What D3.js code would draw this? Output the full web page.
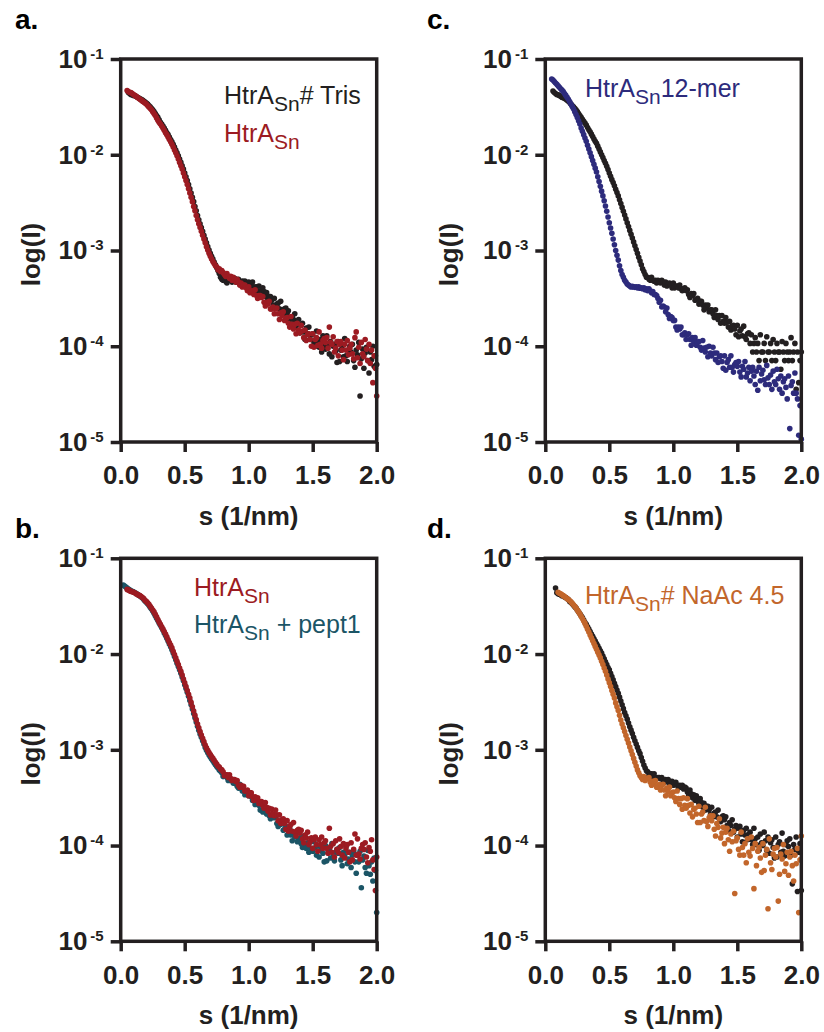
<!DOCTYPE html>
<html lang="en">
<head>
<meta charset="UTF-8">
<title>SAXS curves HtrA</title>
<script src="https://d3js.org/d3.v7.min.js"></script>
<style>
    body { margin: 0; background: #fff; }
    svg { display: block; font-family: "Liberation Sans", Arial, sans-serif; }
    .tick line { stroke: #231f20; stroke-width: 3.5; }
    .tick text { fill: #231f20; font-weight: bold; }
</style>
</head>
<body>
<svg id="fig" width="824" height="1032"></svg>
<script>
// s values (1/nm), shared grid for every curve
const S_GRID = [
  0.02,0.03,0.04,0.05,0.06,0.07,0.08,0.09,
  0.10,0.11,0.12,0.13,0.14,0.15,0.16,0.17,0.18,0.19,
  0.20,0.21,0.22,0.23,0.24,0.25,0.26,0.27,0.28,0.29,
  0.30,0.31,0.32,0.33,0.34,0.35,0.36,0.37,0.38,0.39,
  0.40,0.41,0.42,0.43,0.44,0.45,0.46,0.47,0.48,0.49,
  0.50,0.51,0.52,0.53,0.54,0.55,0.56,0.57,0.58,0.59,
  0.60,0.61,0.62,0.63,0.64,0.65,0.66,0.67,0.68,0.69,
  0.70,0.71,0.72,0.73,0.74,0.75,0.76,0.77,0.78,0.79,
  0.80,0.81,0.82,0.83,0.84,0.85,0.86,0.87,0.88,0.89,
  0.90,0.91,0.92,0.93,0.94,0.95,0.96,0.97,0.98,0.99,
  1.00,1.01,1.02,1.03,1.04,1.05,1.06,1.07,1.08,1.09,
  1.10,1.11,1.12,1.13,1.14,1.15,1.16,1.17,1.18,1.19,
  1.20,1.21,1.22,1.23,1.24,1.25,1.26,1.27,1.28,1.29,
  1.30,1.31,1.32,1.33,1.34,1.35,1.36,1.37,1.38,1.39,
  1.40,1.41,1.42,1.43,1.44,1.45,1.46,1.47,1.48,1.49,
  1.50,1.51,1.52,1.53,1.54,1.55,1.56,1.57,1.58,1.59,
  1.60,1.61,1.62,1.63,1.64,1.65,1.66,1.67,1.68,1.69,
  1.70,1.71,1.72,1.73,1.74,1.75,1.76,1.77,1.78,1.79,
  1.80,1.81,1.82,1.83,1.84,1.85,1.86,1.87,1.88,1.89,
  1.90,1.91,1.92,1.93,1.94,1.95,1.96,1.97,1.98,1.99,2.00
];

// log10(I) read off the figure, one value per S_GRID entry (null = not measured)
// panel a: HtrA_Sn# Tris (black)
const A_TRIS = [
  null,null,null,null,-1.35,-1.36,-1.37,-1.375,
  -1.38,-1.385,-1.39,-1.40,-1.405,-1.415,-1.42,-1.43,-1.44,-1.45,
  -1.46,-1.47,-1.485,-1.50,-1.515,-1.53,-1.55,-1.57,-1.59,-1.61,
  -1.635,-1.66,-1.68,-1.70,-1.72,-1.745,-1.77,-1.79,-1.815,-1.84,
  -1.865,-1.89,-1.92,-1.95,-1.98,-2.01,-2.045,-2.08,-2.115,-2.15,
  -2.19,-2.23,-2.27,-2.31,-2.355,-2.40,-2.445,-2.49,-2.54,-2.585,
  -2.635,-2.68,-2.72,-2.76,-2.80,-2.84,-2.88,-2.92,-2.96,-2.995,
  -3.03,-3.06,-3.09,-3.12,-3.15,-3.18,-3.21,-3.24,-3.28,-3.30,
  -3.31,-3.29,-3.32,-3.34,-3.30,-3.31,-3.28,-3.33,-3.31,-3.29,
  -3.33,-3.31,-3.30,-3.33,-3.36,-3.32,-3.34,-3.32,-3.36,-3.34,
  -3.33,-3.37,-3.39,-3.33,-3.38,-3.41,-3.38,-3.44,-3.37,-3.42,
  -3.44,-3.39,-3.43,-3.48,-3.44,-3.51,-3.48,-3.48,-3.52,-3.57,
  -3.50,-3.60,-3.56,-3.55,-3.61,-3.53,-3.62,-3.66,-3.61,-3.60,
  -3.66,-3.63,-3.72,-3.77,-3.69,-3.72,-3.66,-3.79,-3.76,-3.72,
  -3.86,-3.78,-3.76,-3.85,-3.93,-3.81,-3.87,-3.80,-3.93,-3.88,
  -3.87,-3.96,-4.00,-3.84,-3.95,-4.01,-3.93,-4.06,-3.89,-3.99,
  -4.03,-3.89,-3.98,-4.08,-3.95,-4.11,-4.00,-3.98,-4.05,-4.17,
  -3.95,-4.16,-4.04,-4.00,-4.11,-3.92,-4.10,-4.16,-4.04,-4.00,
  -4.06,-3.98,-4.15,-4.22,-4.04,-4.09,-3.96,-4.52,-4.13,-4.03,
  -4.23,-4.07,-4.01,-4.15,-4.28,-4.06,-4.14,-4.00,-4.21,-4.10,-4.19
];
// panel a: HtrA_Sn (red)
const A_HTRA = [
  null,null,null,-1.33,-1.34,-1.35,-1.35,-1.36,
  -1.37,-1.38,-1.39,-1.40,-1.41,-1.42,-1.43,-1.44,-1.45,-1.46,
  -1.47,-1.485,-1.50,-1.515,-1.53,-1.55,-1.57,-1.59,-1.615,-1.64,
  -1.66,-1.68,-1.70,-1.72,-1.745,-1.77,-1.79,-1.815,-1.84,-1.865,
  -1.89,-1.92,-1.95,-1.98,-2.01,-2.045,-2.08,-2.115,-2.15,-2.19,
  -2.23,-2.27,-2.31,-2.355,-2.40,-2.445,-2.49,-2.54,-2.585,-2.635,
  -2.68,-2.72,-2.76,-2.80,-2.84,-2.88,-2.92,-2.96,-2.995,-3.03,
  -3.06,-3.09,-3.115,-3.135,-3.16,-3.17,-3.20,-3.19,-3.22,-3.21,
  -3.23,-3.25,-3.27,-3.24,-3.27,-3.29,-3.27,-3.31,-3.28,-3.30,
  -3.33,-3.30,-3.33,-3.36,-3.34,-3.38,-3.36,-3.36,-3.39,-3.42,
  -3.38,-3.44,-3.42,-3.42,-3.46,-3.41,-3.47,-3.50,-3.47,-3.47,
  -3.49,-3.48,-3.54,-3.58,-3.54,-3.56,-3.53,-3.61,-3.61,-3.59,
  -3.66,-3.61,-3.60,-3.66,-3.72,-3.65,-3.68,-3.64,-3.73,-3.71,
  -3.70,-3.76,-3.80,-3.69,-3.77,-3.82,-3.77,-3.87,-3.76,-3.83,
  -3.86,-3.78,-3.84,-3.91,-3.83,-3.94,-3.88,-3.87,-3.93,-4.00,
  -3.87,-4.01,-3.93,-3.91,-3.99,-3.85,-3.98,-4.02,-3.94,-3.92,
  -3.96,-3.91,-4.02,-3.80,-3.96,-3.98,-3.90,-4.06,-4.02,-3.95,
  -4.10,-3.98,-3.95,-4.04,-4.14,-3.98,-4.04,-3.94,-4.09,-4.02,
  -3.98,-4.08,-4.13,-3.91,-3.85,-4.12,-4.01,-4.18,-3.96,-4.08,
  -4.11,-3.93,-4.03,-4.15,-3.98,-4.18,-4.04,-4.38,-4.10,-4.23,-4.52
];
// panel b: HtrA_Sn (red)
const B_HTRA = [
  null,null,null,-1.325,-1.33,-1.34,-1.345,-1.35,
  -1.355,-1.36,-1.37,-1.375,-1.385,-1.39,-1.40,-1.41,-1.42,-1.44,
  -1.45,-1.465,-1.48,-1.50,-1.52,-1.54,-1.56,-1.585,-1.61,-1.64,
  -1.665,-1.69,-1.715,-1.74,-1.765,-1.79,-1.82,-1.85,-1.88,-1.905,
  -1.935,-1.97,-2.005,-2.04,-2.075,-2.11,-2.145,-2.18,-2.22,-2.26,
  -2.30,-2.34,-2.38,-2.42,-2.46,-2.505,-2.55,-2.595,-2.64,-2.685,
  -2.73,-2.77,-2.81,-2.845,-2.88,-2.915,-2.95,-2.98,-3.005,-3.03,
  -3.05,-3.07,-3.09,-3.11,-3.13,-3.15,-3.17,-3.18,-3.20,-3.21,
  -3.23,-3.27,-3.26,-3.26,-3.29,-3.26,-3.30,-3.32,-3.31,-3.31,
  -3.33,-3.32,-3.37,-3.39,-3.37,-3.39,-3.38,-3.43,-3.43,-3.42,
  -3.48,-3.45,-3.45,-3.49,-3.53,-3.49,-3.52,-3.50,-3.56,-3.54,
  -3.54,-3.58,-3.61,-3.55,-3.60,-3.64,-3.61,-3.68,-3.62,-3.67,
  -3.69,-3.63,-3.68,-3.74,-3.68,-3.77,-3.73,-3.72,-3.77,-3.83,
  -3.74,-3.85,-3.80,-3.78,-3.85,-3.76,-3.86,-3.90,-3.84,-3.83,
  -3.87,-3.84,-3.93,-3.97,-3.89,-3.92,-3.86,-3.99,-3.96,-3.92,
  -4.03,-3.94,-3.91,-3.99,-4.06,-3.94,-3.99,-3.91,-4.03,-3.97,
  -3.95,-4.03,-4.08,-3.82,-4.01,-4.07,-3.98,-4.12,-3.95,-4.04,
  -4.07,-3.93,-4.01,-4.10,-3.98,-4.13,-4.03,-3.99,-4.07,-4.17,
  -3.97,-4.15,-4.04,-3.88,-4.10,-3.93,-4.09,-4.14,-4.03,-3.99,
  -4.04,-3.97,-4.12,-4.18,-4.02,-4.06,-3.94,-4.15,-4.25,-4.47,-4.12
];
// panel b: HtrA_Sn + pept1 (teal)
const B_PEPT = [
  -1.28,-1.29,-1.30,-1.31,-1.32,-1.33,-1.34,-1.345,
  -1.35,-1.36,-1.365,-1.375,-1.385,-1.395,-1.405,-1.415,-1.43,-1.445,
  -1.46,-1.475,-1.49,-1.51,-1.53,-1.55,-1.575,-1.60,-1.625,-1.65,
  -1.675,-1.70,-1.725,-1.75,-1.78,-1.805,-1.835,-1.865,-1.895,-1.925,
  -1.955,-1.99,-2.025,-2.06,-2.095,-2.13,-2.165,-2.20,-2.24,-2.28,
  -2.32,-2.36,-2.40,-2.44,-2.485,-2.53,-2.575,-2.62,-2.665,-2.71,
  -2.755,-2.795,-2.835,-2.87,-2.905,-2.94,-2.975,-3.005,-3.03,-3.055,
  -3.075,-3.095,-3.115,-3.135,-3.155,-3.175,-3.19,-3.21,-3.225,-3.24,
  -3.28,-3.26,-3.27,-3.29,-3.32,-3.30,-3.32,-3.31,-3.35,-3.35,
  -3.35,-3.38,-3.40,-3.36,-3.40,-3.43,-3.42,-3.47,-3.43,-3.46,
  -3.48,-3.45,-3.49,-3.53,-3.50,-3.57,-3.55,-3.55,-3.58,-3.63,
  -3.57,-3.65,-3.62,-3.62,-3.67,-3.61,-3.69,-3.72,-3.69,-3.68,
  -3.71,-3.70,-3.77,-3.80,-3.75,-3.78,-3.74,-3.84,-3.83,-3.80,
  -3.89,-3.83,-3.82,-3.89,-3.95,-3.87,-3.91,-3.86,-3.96,-3.93,
  -3.92,-3.98,-4.02,-3.90,-3.98,-4.03,-3.97,-4.07,-3.96,-4.03,
  -4.06,-3.96,-4.02,-4.10,-4.00,-4.12,-4.05,-4.03,-4.08,-4.17,
  -4.00,-4.16,-4.07,-4.04,-4.13,-3.98,-4.12,-4.16,-4.07,-4.04,
  -4.08,-4.02,-4.15,-4.21,-4.07,-4.11,-4.01,-4.19,-4.14,-4.07,
  -4.23,-4.10,-4.06,-4.17,-4.29,-4.10,-4.17,-4.06,-4.44,-4.15,
  -4.11,-4.23,-4.29,-4.05,-4.21,-4.30,-4.17,-4.37,-4.13,-4.26,-4.70
];
// panel c: reference (black)
const C_REF = [
  null,null,null,null,-1.335,-1.35,-1.36,-1.37,
  -1.375,-1.38,-1.39,-1.40,-1.405,-1.41,-1.42,-1.43,-1.44,-1.455,
  -1.47,-1.485,-1.50,-1.515,-1.53,-1.55,-1.57,-1.59,-1.61,-1.63,
  -1.65,-1.67,-1.69,-1.715,-1.74,-1.76,-1.785,-1.81,-1.835,-1.86,
  -1.88,-1.91,-1.94,-1.97,-2.00,-2.03,-2.06,-2.09,-2.12,-2.155,
  -2.19,-2.225,-2.26,-2.29,-2.325,-2.36,-2.395,-2.43,-2.47,-2.51,
  -2.55,-2.59,-2.63,-2.67,-2.71,-2.75,-2.79,-2.83,-2.87,-2.91,
  -2.95,-2.99,-3.03,-3.07,-3.11,-3.15,-3.19,-3.22,-3.25,-3.28,
  -3.28,-3.30,-3.31,-3.28,-3.31,-3.32,-3.31,-3.34,-3.31,-3.33,
  -3.34,-3.31,-3.33,-3.36,-3.33,-3.37,-3.35,-3.34,-3.36,-3.39,
  -3.34,-3.39,-3.37,-3.37,-3.39,-3.36,-3.40,-3.42,-3.40,-3.39,
  -3.42,-3.41,-3.46,-3.49,-3.45,-3.47,-3.45,-3.52,-3.51,-3.50,
  -3.56,-3.53,-3.53,-3.57,-3.62,-3.57,-3.60,-3.57,-3.64,-3.62,
  -3.62,-3.66,-3.70,-3.62,-3.68,-3.72,-3.68,-3.76,-3.68,-3.74,
  -3.76,-3.70,-3.75,-3.80,-3.74,-3.83,-3.79,-3.78,-3.82,-3.88,
  -3.78,-3.90,-3.84,-3.82,-3.89,-3.79,-3.90,-3.93,-3.87,-3.86,
  -3.97,-3.88,-4.06,-3.97,-3.91,-4.06,-3.97,-4.15,-3.88,-4.06,
  -4.06,-3.97,-4.15,-3.90,-4.06,-4.06,-3.97,-4.15,-3.93,-4.06,
  -4.15,-3.97,-4.06,-4.06,-4.24,-3.95,-4.06,-4.15,-3.97,-4.06,
  -4.15,-4.06,-3.91,-4.15,-4.06,-3.97,-4.45,-4.06,-4.38,-4.15,-4.06
];
// panel c: HtrA_Sn 12-mer (blue)
const C_12MER = [
  null,null,null,-1.21,-1.22,-1.235,-1.25,-1.265,
  -1.28,-1.295,-1.31,-1.325,-1.34,-1.36,-1.38,-1.40,-1.42,-1.445,
  -1.47,-1.495,-1.52,-1.55,-1.58,-1.61,-1.645,-1.68,-1.72,-1.755,
  -1.79,-1.825,-1.86,-1.90,-1.94,-1.98,-2.02,-2.06,-2.10,-2.14,
  -2.18,-2.23,-2.28,-2.33,-2.38,-2.43,-2.48,-2.535,-2.59,-2.65,
  -2.71,-2.765,-2.82,-2.88,-2.94,-3.00,-3.05,-3.10,-3.16,-3.21,
  -3.25,-3.28,-3.31,-3.33,-3.35,-3.36,-3.37,-3.38,-3.375,-3.38,
  -3.385,-3.38,-3.39,-3.38,-3.395,-3.39,-3.40,-3.39,-3.41,-3.40,
  -3.42,-3.40,-3.42,-3.44,-3.43,-3.46,-3.46,-3.47,-3.50,-3.54,
  -3.52,-3.59,-3.58,-3.59,-3.64,-3.60,-3.67,-3.71,-3.69,-3.70,
  -3.73,-3.73,-3.80,-3.83,-3.80,-3.82,-3.80,-3.88,-3.88,-3.86,
  -3.93,-3.88,-3.87,-3.93,-3.99,-3.91,-3.95,-3.91,-3.99,-3.96,
  -3.95,-4.01,-4.04,-3.94,-4.02,-4.06,-4.01,-4.11,-4.00,-4.07,
  -4.10,-4.01,-4.07,-4.14,-4.07,-4.17,-4.11,-4.10,-4.16,-4.23,
  -4.10,-4.25,-4.17,-4.14,-4.22,-4.10,-4.22,-4.27,-4.19,-4.17,
  -4.21,-4.16,-4.27,-4.32,-4.21,-4.24,-4.16,-4.32,-4.28,-4.22,
  -4.36,-4.26,-4.22,-4.31,-4.40,-4.26,-4.46,-4.22,-4.36,-4.29,
  -4.25,-4.35,-4.40,-4.20,-4.33,-4.40,-4.30,-4.45,-4.26,-4.37,
  -4.40,-4.24,-4.34,-4.45,-4.31,-4.49,-4.37,-4.34,-4.43,-4.55,
  -4.31,-4.86,-4.41,-4.37,-4.49,-4.28,-4.49,-4.55,-4.93,-4.62,-4.97
];
// panel d: reference (black)
const D_REF = [
  null,null,null,null,null,null,-1.31,-1.36,
  -1.37,-1.375,-1.38,-1.39,-1.395,-1.405,-1.41,-1.42,-1.43,-1.45,
  -1.46,-1.475,-1.49,-1.505,-1.52,-1.54,-1.56,-1.58,-1.60,-1.62,
  -1.645,-1.67,-1.69,-1.715,-1.74,-1.765,-1.79,-1.815,-1.84,-1.865,
  -1.89,-1.915,-1.94,-1.965,-1.99,-2.02,-2.05,-2.08,-2.11,-2.14,
  -2.165,-2.20,-2.235,-2.27,-2.305,-2.34,-2.375,-2.41,-2.45,-2.49,
  -2.53,-2.57,-2.61,-2.645,-2.68,-2.72,-2.76,-2.795,-2.83,-2.87,
  -2.905,-2.94,-2.975,-3.01,-3.04,-3.08,-3.12,-3.16,-3.19,-3.22,
  -3.23,-3.27,-3.25,-3.25,-3.28,-3.25,-3.29,-3.30,-3.29,-3.29,
  -3.30,-3.29,-3.32,-3.34,-3.31,-3.33,-3.31,-3.36,-3.35,-3.33,
  -3.37,-3.35,-3.34,-3.37,-3.40,-3.37,-3.39,-3.37,-3.41,-3.39,
  -3.40,-3.44,-3.47,-3.42,-3.46,-3.50,-3.47,-3.53,-3.48,-3.53,
  -3.56,-3.51,-3.55,-3.60,-3.56,-3.63,-3.59,-3.59,-3.63,-3.68,
  -3.60,-3.70,-3.66,-3.65,-3.70,-3.63,-3.72,-3.75,-3.70,-3.69,
  -3.73,-3.70,-3.79,-3.84,-3.76,-3.79,-3.73,-3.86,-3.83,-3.79,
  -3.91,-3.82,-3.80,-3.88,-3.96,-3.84,-3.89,-3.82,-3.94,-3.88,
  -3.86,-3.94,-3.99,-3.82,-3.93,-3.99,-3.91,-4.05,-3.88,-3.97,
  -4.00,-3.86,-3.95,-4.05,-3.91,-4.08,-3.97,-3.94,-4.02,-4.13,
  -3.91,-4.12,-3.99,-3.96,-4.07,-3.87,-4.06,-4.11,-3.99,-3.95,
  -4.01,-3.93,-4.10,-4.40,-3.99,-4.04,-3.91,-4.48,-4.07,-3.98,-4.47
];
// panel d: HtrA_Sn# NaAc 4.5 (orange)
const D_NAAC = [
  null,null,null,null,null,null,null,null,
  -1.355,-1.365,-1.37,-1.38,-1.39,-1.40,-1.41,-1.42,-1.43,-1.44,
  -1.455,-1.47,-1.485,-1.50,-1.52,-1.54,-1.56,-1.58,-1.605,-1.63,
  -1.655,-1.68,-1.71,-1.74,-1.77,-1.80,-1.83,-1.86,-1.89,-1.92,
  -1.95,-1.98,-2.01,-2.04,-2.075,-2.11,-2.145,-2.18,-2.22,-2.26,
  -2.30,-2.34,-2.38,-2.42,-2.46,-2.51,-2.55,-2.59,-2.64,-2.69,
  -2.73,-2.77,-2.81,-2.85,-2.89,-2.93,-2.97,-3.01,-3.05,-3.09,
  -3.13,-3.17,-3.21,-3.24,-3.27,-3.29,-3.31,-3.28,-3.32,-3.30,
  -3.30,-3.29,-3.34,-3.37,-3.33,-3.35,-3.32,-3.39,-3.38,-3.36,
  -3.42,-3.37,-3.36,-3.42,-3.48,-3.40,-3.44,-3.39,-3.48,-3.45,
  -3.44,-3.50,-3.54,-3.43,-3.51,-3.57,-3.51,-3.62,-3.50,-3.58,
  -3.61,-3.51,-3.58,-3.66,-3.57,-3.70,-3.62,-3.61,-3.67,-3.76,
  -3.59,-3.76,-3.67,-3.65,-3.74,-3.60,-3.75,-3.80,-3.71,-3.69,
  -3.74,-3.69,-3.83,-3.90,-3.77,-3.81,-3.72,-3.92,-3.87,-3.81,
  -3.98,-3.86,-3.82,-3.94,-4.06,-3.88,-3.96,-3.85,-4.50,-3.95,
  -3.92,-4.04,-4.10,-3.86,-4.02,-4.10,-3.98,-4.18,-3.93,-4.07,
  -4.11,-3.91,-4.03,-4.45,-3.98,-4.21,-4.06,-4.02,-4.13,-4.28,
  -3.98,-4.26,-4.10,-4.04,-4.66,-3.93,-4.18,-4.25,-4.09,-4.03,
  -4.12,-4.02,-4.58,-4.30,-4.09,-4.14,-3.99,-4.27,-4.19,-4.07,
  -4.31,-4.12,-4.06,-4.21,-4.37,-4.10,-4.19,-4.03,-4.70,-4.15,-3.90
];

const X_TICKS = [0, 0.5, 1.0, 1.5, 2.0];
const Y_TICKS = [1e-1, 1e-2, 1e-3, 1e-4, 1e-5];

const INK = "#231f20";
const RED = "#9c1b22";
const BLUE = "#2d2b7c";
const TEAL = "#1b5566";
const ORANGE = "#c2662b";

const PW = 256, PH = 383;   // plot area size
const DOT_R = 2.8;

const panels = [
    { label: "a.", lx: 15, ly: 29, left: 120.7, top: 59, titleX: 40,
      series: [ { vals: A_TRIS, color: INK }, { vals: A_HTRA, color: RED } ],
      legend: [ { x: 224, y: 104, color: INK, rest: "# Tris" },
                { x: 224, y: 142, color: RED, rest: "" } ] },
    { label: "c.", lx: 427, ly: 29, left: 545.3, top: 59, titleX: 458,
      series: [ { vals: C_REF, color: INK }, { vals: C_12MER, color: BLUE } ],
      legend: [ { x: 585, y: 97, color: BLUE, rest: "12-mer" } ] },
    { label: "b.", lx: 15, ly: 538, left: 120.7, top: 558.3, titleX: 40,
      series: [ { vals: B_PEPT, color: TEAL }, { vals: B_HTRA, color: RED } ],
      legend: [ { x: 194, y: 596, color: RED, rest: "" },
                { x: 194, y: 633, color: TEAL, rest: " + pept1" } ] },
    { label: "d.", lx: 427, ly: 538, left: 545.3, top: 558.3, titleX: 458,
      series: [ { vals: D_REF, color: INK }, { vals: D_NAAC, color: ORANGE } ],
      legend: [ { x: 585, y: 604, color: ORANGE, rest: "# NaAc 4.5" } ] }
];

const svg = d3.select("#fig");

panels.forEach(p => {
    const g = svg.append("g");
    const x = d3.scaleLinear().domain([0, 2]).range([p.left, p.left + PW]);
    const y = d3.scaleLog().domain([1e-5, 1e-1]).range([p.top + PH, p.top]);

    // data points
    p.series.forEach(sr => {
        const pts = S_GRID.map((s, i) => ({ s: s, v: sr.vals[i] }))
                          .filter(d => d.v !== null && d.v !== undefined);
        g.append("g").selectAll("circle")
            .data(pts)
            .enter().append("circle")
            .attr("cx", d => x(d.s))
            .attr("cy", d => y(Math.pow(10, d.v)))
            .attr("r", DOT_R)
            .attr("fill", sr.color);
    });

    // frame
    g.append("rect")
        .attr("x", p.left).attr("y", p.top)
        .attr("width", PW).attr("height", PH)
        .attr("fill", "none")
        .attr("stroke", INK)
        .attr("stroke-width", 3.5);

    // x axis
    const xAxis = g.append("g")
        .attr("transform", `translate(0,${p.top + PH})`)
        .call(d3.axisBottom(x).tickValues(X_TICKS).tickSize(10).tickSizeOuter(0)
              .tickPadding(14).tickFormat(d3.format(".1f")));
    xAxis.select(".domain").remove();
    xAxis.selectAll(".tick text").style("font-size", "26px");

    // y axis, labels as 10 with superscript exponent
    const yAxis = g.append("g")
        .attr("transform", `translate(${p.left},0)`)
        .call(d3.axisLeft(y).tickValues(Y_TICKS).tickSize(10).tickSizeOuter(0)
              .tickPadding(7).tickFormat(""));
    yAxis.select(".domain").remove();
    yAxis.selectAll(".tick text")
        .style("font-size", "26px")
        .each(function(d) {
            const t = d3.select(this);
            t.text(null);
            t.append("tspan").text("10");
            t.append("tspan")
                .attr("dx", 3).attr("dy", -9)
                .style("font-size", "15px")
                .text(String(Math.round(Math.log10(d))));
        });

    // axis titles
    g.append("text")
        .attr("x", p.left + PW / 2)
        .attr("y", p.top + PH + 83)
        .attr("text-anchor", "middle")
        .attr("fill", INK)
        .style("font-size", "26px").style("font-weight", "bold")
        .text("s (1/nm)");

    g.append("text")
        .attr("transform", `translate(${p.titleX},${p.top + PH / 2 + 4}) rotate(-90)`)
        .attr("text-anchor", "middle")
        .attr("fill", INK)
        .style("font-size", "26px").style("font-weight", "bold")
        .text("log(I)");

    // panel letter
    g.append("text")
        .attr("x", p.lx).attr("y", p.ly)
        .attr("fill", "#000")
        .style("font-size", "28px").style("font-weight", "bold")
        .text(p.label);

    // legend text
    p.legend.forEach(l => {
        const t = g.append("text")
            .attr("x", l.x).attr("y", l.y)
            .attr("fill", l.color)
            .style("font-size", "25px");
        t.append("tspan").text("HtrA");
        t.append("tspan").attr("dy", 7).style("font-size", "21px").text("Sn");
        if (l.rest) t.append("tspan").attr("dy", -7).style("white-space", "pre").text(l.rest);
    });
});
</script>
</body>
</html>
